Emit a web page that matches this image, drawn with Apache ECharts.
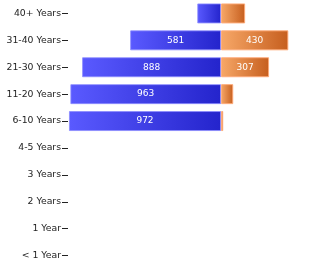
<!DOCTYPE html>
<html><head><meta charset="utf-8">
<script src="https://cdn.jsdelivr.net/npm/echarts@6/dist/echarts.min.js"></script>
<style>html,body{margin:0;padding:0;background:#fff}#c{width:314px;height:269px}</style>
</head><body><div id="c"></div>
<script>
var categories = ['< 1 Year','1 Year','2 Years','3 Years','4-5 Years','6-10 Years','11-20 Years','21-30 Years','31-40 Years','40+ Years'];
var blueValues = [0,0,0,0,0,972,963,888,581,152];
var orangeValues = [0,0,0,0,0,14,78,307,430,154];
var labelMin = 250;

var chart = echarts.init(document.getElementById('c'), null, {renderer:'canvas'});
function grad(c1,c2){return new echarts.graphic.LinearGradient(0,0,1,0,[{offset:0,color:c1},{offset:1,color:c2}]);}
function nz(v){return v===0?null:v;}
var lbl = {show:true, position:'inside', color:'#fff', fontSize:9, fontFamily:'DejaVu Sans',
  formatter:function(p){var v=Math.abs(p.value);return v>=labelMin?String(v):'';}};
chart.setOption({
  animation:false,
  grid:{left:68,right:0,top:-3,height:272.5,containLabel:false},
  xAxis:{type:'value',min:-978,max:594,show:false},
  yAxis:{type:'category',data:categories,position:'left',
    axisLine:{show:true,onZero:false,lineStyle:{color:'rgba(0,0,0,0)'}},
    axisTick:{show:true,length:6,alignWithLabel:true,lineStyle:{color:'#222',width:1}},
    axisLabel:{color:'#222',fontSize:9.3,fontFamily:'DejaVu Sans',margin:7},
    splitLine:{show:false}},
  series:[
    {type:'bar',stack:'s',barWidth:20,data:blueValues.map(function(v){return nz(-v);}),
     itemStyle:{color:grad('#5a5aff','#2424cc'),borderColor:'rgba(140,140,255,0.8)',borderWidth:1},
     label:lbl},
    {type:'bar',stack:'s',barWidth:20,data:orangeValues.map(nz),
     itemStyle:{color:grad('#f7a868','#c65e1e'),borderColor:'rgba(255,170,120,0.9)',borderWidth:1},
     label:lbl}
  ]
});
</script></body></html>
